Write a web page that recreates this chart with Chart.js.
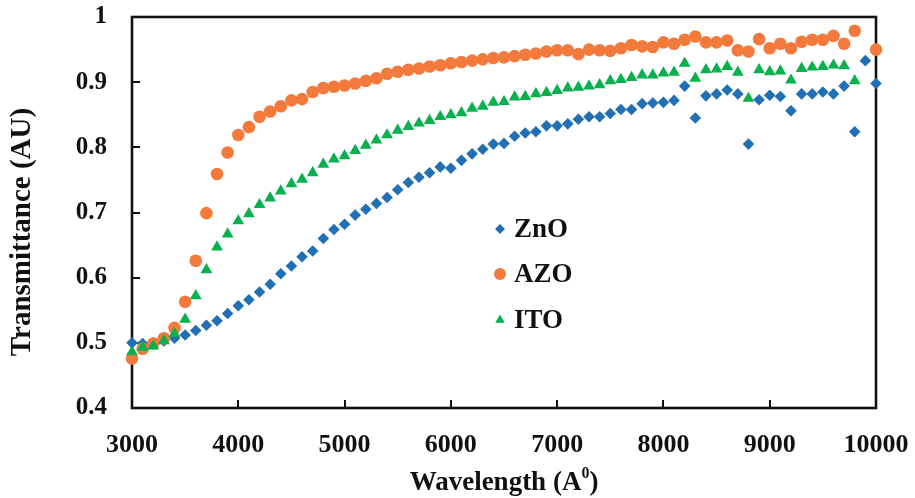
<!DOCTYPE html>
<html>
<head>
<meta charset="utf-8">
<title>Transmittance</title>
<script src="https://cdn.jsdelivr.net/npm/chart.js@4.4.1/dist/chart.umd.min.js"></script>
<style>
  html, body { margin: 0; padding: 0; background: #ffffff; }
  #c { display: block; }
</style>
</head>
<body>
<canvas id="c" width="915" height="498"></canvas>
<script>
// Wavelength grid (Å)
const wavelengths = [
  3000, 3100, 3200, 3300, 3400, 3500, 3600, 3700, 3800, 3900,
  4000, 4100, 4200, 4300, 4400, 4500, 4600, 4700, 4800, 4900,
  5000, 5100, 5200, 5300, 5400, 5500, 5600, 5700, 5800, 5900,
  6000, 6100, 6200, 6300, 6400, 6500, 6600, 6700, 6800, 6900,
  7000, 7100, 7200, 7300, 7400, 7500, 7600, 7700, 7800, 7900,
  8000, 8100, 8200, 8300, 8400, 8500, 8600, 8700, 8800, 8900,
  9000, 9100, 9200, 9300, 9400, 9500, 9600, 9700, 9800, 9900,
  10000
];

// Transmittance of each film (null = no measurement)
const znoValues = [
  0.500, 0.499, 0.500, 0.503, 0.507, 0.512, 0.519, 0.527, 0.534, 0.545,
  0.557, 0.566, 0.578, 0.590, 0.606, 0.618, 0.632, 0.641, 0.660, 0.674,
  0.682, 0.696, 0.705, 0.714, 0.723, 0.735, 0.746, 0.754, 0.761, 0.770,
  0.768, 0.780, 0.790, 0.797, 0.805, 0.806, 0.817, 0.822, 0.824, 0.833,
  0.833, 0.836, 0.843, 0.847, 0.847, 0.852, 0.858, 0.858, 0.867, 0.868,
  0.869, 0.872, 0.894, 0.845, 0.879, 0.882, 0.888, 0.882, 0.805, 0.873,
  0.880, 0.878, 0.856, 0.882, 0.882, 0.885, 0.882, 0.894, 0.824, 0.933,
  0.898
];

const azoValues = [
  0.476, 0.491, 0.499, 0.507, 0.523, 0.563, 0.626, 0.699, 0.759, 0.792,
  0.819, 0.831, 0.847, 0.855, 0.863, 0.872, 0.874, 0.885, 0.891, 0.893,
  0.895, 0.898, 0.902, 0.906, 0.913, 0.916, 0.919, 0.921, 0.924, 0.926,
  0.929, 0.931, 0.933, 0.935, 0.937, 0.938, 0.940, 0.942, 0.944, 0.947,
  0.949, 0.949, 0.943, 0.950, 0.949, 0.948, 0.952, 0.957, 0.955, 0.954,
  0.961, 0.959, 0.965, 0.970, 0.961, 0.961, 0.964, 0.949, 0.947, 0.966,
  0.952, 0.959, 0.952, 0.962, 0.965, 0.965, 0.971, 0.959, 0.979, null,
  0.950
];

const itoValues = [
  0.486, 0.493, 0.495, 0.503, 0.514, 0.536, 0.572, 0.612, 0.647, 0.667,
  0.687, 0.698, 0.712, 0.722, 0.733, 0.744, 0.751, 0.761, 0.774, 0.782,
  0.787, 0.795, 0.803, 0.811, 0.819, 0.826, 0.832, 0.837, 0.841, 0.847,
  0.850, 0.853, 0.860, 0.863, 0.869, 0.870, 0.877, 0.878, 0.882, 0.884,
  0.887, 0.891, 0.892, 0.894, 0.896, 0.902, 0.904, 0.907, 0.911, 0.911,
  0.914, 0.915, 0.929, 0.906, 0.919, 0.920, 0.924, 0.915, 0.875, 0.919,
  0.916, 0.917, 0.903, 0.921, 0.923, 0.924, 0.926, 0.925, 0.902, null,
  null
];

// Axis ticks
const xTicks = [3000, 4000, 5000, 6000, 7000, 8000, 9000, 10000];
const xTickLabels = ['3000', '4000', '5000', '6000', '7000', '8000', '9000', '10000'];
const yTicks = [0.4, 0.5, 0.6, 0.7, 0.8, 0.9, 1.0];
const yTickLabels = ['0.4', '0.5', '0.6', '0.7', '0.8', '0.9', '1'];

const SERIF = '"Liberation Serif", "Times New Roman", serif';
const INK = '#111111';

function toPoints(values) {
  return wavelengths
    .map((w, i) => ({ x: w, y: values[i] }))
    .filter(p => p.y !== null);
}

// Axis frame with inward tick marks
const framePlugin = {
  id: 'frame',
  beforeDatasetsDraw(chart) {
    const { ctx, chartArea: a, scales } = chart;
    ctx.save();
    ctx.strokeStyle = INK;
    ctx.lineWidth = 2;
    const tick = 8;
    ctx.beginPath();
    xTicks.slice(1, -1).forEach(v => {
      const px = Math.round(scales.x.getPixelForValue(v));
      ctx.moveTo(px, a.bottom);
      ctx.lineTo(px, a.bottom - tick);
    });
    yTicks.slice(1, -1).forEach(v => {
      const py = Math.round(scales.y.getPixelForValue(v));
      ctx.moveTo(a.left, py);
      ctx.lineTo(a.left + tick, py);
    });
    ctx.stroke();
    ctx.lineWidth = 2.6;
    ctx.strokeRect(a.left, a.top, a.right - a.left, a.bottom - a.top);
    ctx.restore();
  }
};

// Axis titles
const titlesPlugin = {
  id: 'axisTitles',
  afterDraw(chart) {
    const { ctx, chartArea: a } = chart;
    ctx.save();
    ctx.fillStyle = INK;
    ctx.textBaseline = 'middle';

    // vertical title
    ctx.font = 'bold 29px ' + SERIF;
    ctx.translate(23, 232);
    ctx.rotate(-Math.PI / 2);
    ctx.textAlign = 'center';
    ctx.fillText('Transmittance (AU)', 0, 0);
    ctx.setTransform(1, 0, 0, 1, 0, 0);

    // horizontal title with superscript
    const main = 'Wavelength (A';
    const sup = '0';
    const tail = ')';
    const big = 'bold 27px ' + SERIF;
    const small = 'bold 16px ' + SERIF;
    ctx.font = big;
    const wMain = ctx.measureText(main).width;
    const wTail = ctx.measureText(tail).width;
    ctx.font = small;
    const wSup = ctx.measureText(sup).width;
    const total = wMain + wSup + wTail;
    let x = (a.left + a.right) / 2 - total / 2;
    const y = 483;
    ctx.textAlign = 'left';
    ctx.font = big;
    ctx.fillText(main, x, y);
    x += wMain;
    ctx.font = small;
    ctx.fillText(sup, x, y - 9);
    x += wSup;
    ctx.font = big;
    ctx.fillText(tail, x, y);
    ctx.restore();
  }
};

// Legend placed inside the plot
const innerLegendPlugin = {
  id: 'innerLegend',
  afterDraw(chart) {
    const { ctx } = chart;
    const rows = [229, 274, 320];
    const markerX = 500;
    const textX = 514;
    ctx.save();
    ctx.font = 'bold 27px ' + SERIF;
    ctx.textAlign = 'left';
    ctx.textBaseline = 'middle';
    chart.data.datasets.forEach((ds, i) => {
      const y = rows[i];
      ctx.fillStyle = ds.backgroundColor;
      ctx.strokeStyle = ds.backgroundColor;
      ctx.lineWidth = 0;
      Chart.helpers.drawPoint(ctx, {
        pointStyle: ds.pointStyle,
        radius: ds.legendRadius,
        borderWidth: 0,
        rotation: 0
      }, markerX, y);
      ctx.fillStyle = INK;
      ctx.fillText(ds.label, textX, y + 1);
    });
    ctx.restore();
  }
};

const chart = new Chart(document.getElementById('c'), {
  type: 'scatter',
  data: {
    datasets: [
      {
        label: 'ZnO',
        data: toPoints(znoValues),
        pointStyle: 'rectRot',
        pointRadius: 5.8,
        legendRadius: 5,
        backgroundColor: '#2170b6',
        borderColor: '#2170b6',
        borderWidth: 0,
        order: 3,
        clip: false
      },
      {
        label: 'AZO',
        data: toPoints(azoValues),
        pointStyle: 'circle',
        pointRadius: 6.3,
        legendRadius: 6,
        backgroundColor: '#f47a3c',
        borderColor: '#f47a3c',
        borderWidth: 0,
        order: 2,
        clip: false
      },
      {
        label: 'ITO',
        data: toPoints(itoValues),
        pointStyle: 'triangle',
        pointRadius: 6.8,
        legendRadius: 5.5,
        backgroundColor: '#08b04e',
        borderColor: '#08b04e',
        borderWidth: 0,
        order: 1,
        clip: false
      }
    ]
  },
  options: {
    responsive: false,
    animation: false,
    devicePixelRatio: 1,
    layout: { autoPadding: false, padding: { top: 17, right: 39, left: 0, bottom: 0 } },
    plugins: {
      legend: { display: false },
      tooltip: { enabled: false }
    },
    scales: {
      x: {
        type: 'linear',
        min: 3000,
        max: 10000,
        afterBuildTicks(scale) { scale.ticks = xTicks.map(v => ({ value: v })); },
        afterFit(scale) {
          scale.height = 90;
          scale.paddingLeft = 0;
          scale.paddingRight = 0;
        },
        grid: { display: false, drawTicks: false },
        border: { display: false },
        ticks: {
          padding: 22,
          color: INK,
          font: { family: SERIF, size: 26, weight: 'bold' },
          maxRotation: 0,
          autoSkip: false,
          callback: (v) => xTickLabels[xTicks.indexOf(v)]
        }
      },
      y: {
        type: 'linear',
        min: 0.4,
        max: 1.0,
        afterBuildTicks(scale) { scale.ticks = yTicks.map(v => ({ value: v })); },
        afterFit(scale) {
          scale.width = 132;
          scale.paddingTop = 0;
          scale.paddingBottom = 0;
        },
        grid: { display: false, drawTicks: false },
        border: { display: false },
        ticks: {
          padding: 25,
          color: INK,
          font: { family: SERIF, size: 25, weight: 'bold' },
          autoSkip: false,
          callback: (v) => {
            const i = yTicks.findIndex(t => Math.abs(t - v) < 1e-9);
            return yTickLabels[i];
          }
        }
      }
    }
  },
  plugins: [framePlugin, titlesPlugin, innerLegendPlugin]
});
</script>
</body>
</html>
